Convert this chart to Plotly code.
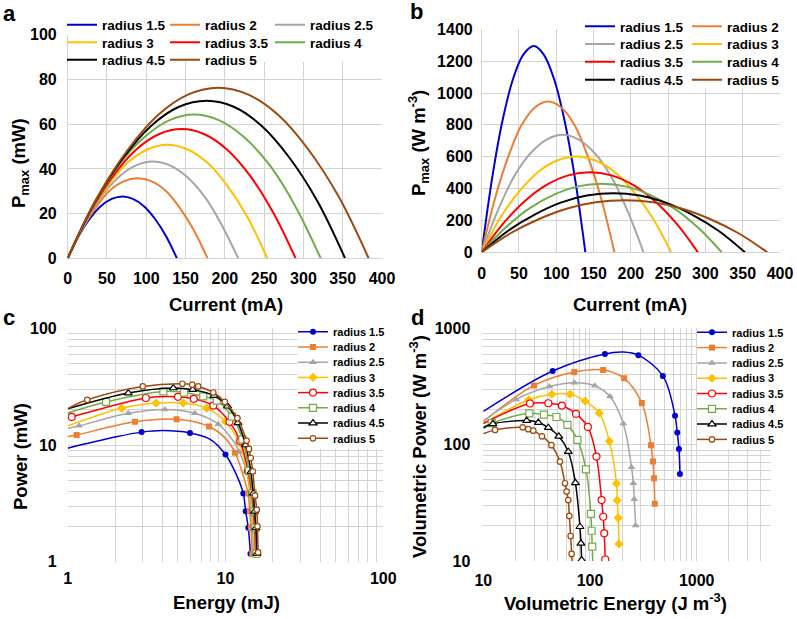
import math
import plotly.graph_objects as go

W, H = 797, 619
FONT = "Liberation Sans, Arial, sans-serif"
GRID = "#D3D3D3"

radii = ["1.5", "2", "2.5", "3", "3.5", "4", "4.5", "5"]
colors = ["#0000CD", "#ED7D31", "#A5A5A5", "#FFC000", "#FF0000", "#70AD47", "#000000", "#9E480E"]
symbols = ["circle", "square", "triangle-up", "diamond", "circle", "square", "triangle-up", "circle"]
filled = [True, True, True, True, False, False, False, False]

# ---------- panels a & b : current (mA) ----------
I_15 = [0, 14, 28, 42, 56, 70, 83, 97, 111, 125, 139]
I_2 = [0, 18, 36, 53, 71, 89, 107, 125, 142, 160, 178]
I_25 = [0, 22, 43, 65, 87, 108, 130, 152, 174, 195, 217]
I_3 = [0, 25, 51, 76, 102, 127, 152, 178, 203, 229, 254]
I_35 = [0, 29, 58, 87, 116, 145, 174, 203, 232, 261, 290]
I_4 = [0, 32, 64, 97, 129, 161, 193, 225, 258, 290, 322]
I_45 = [0, 35, 71, 106, 141, 177, 212, 247, 282, 318, 353]
I_5 = [0, 38, 77, 115, 153, 192, 230, 268, 306, 345, 383]

# panel a : Pmax (mW)
Pa_15 = [0, 10.0, 17.7, 23.3, 26.6, 27.7, 26.6, 23.3, 17.7, 10.0, 0]
Pa_2 = [0, 12.9, 22.9, 30.1, 34.4, 35.8, 34.4, 30.1, 22.9, 12.9, 0]
Pa_25 = [0, 15.6, 27.7, 36.4, 41.6, 43.3, 41.6, 36.4, 27.7, 15.6, 0]
Pa_3 = [0, 18.3, 32.5, 42.7, 48.8, 50.8, 48.8, 42.7, 32.5, 18.3, 0]
Pa_35 = [0, 20.8, 37.0, 48.6, 55.5, 57.8, 55.5, 48.6, 37.0, 20.8, 0]
Pa_4 = [0, 23.1, 41.2, 54.0, 61.7, 64.3, 61.7, 54.0, 41.2, 23.1, 0]
Pa_45 = [0, 25.4, 45.1, 59.2, 67.7, 70.5, 67.7, 59.2, 45.1, 25.4, 0]
Pa_5 = [0, 27.5, 48.8, 64.1, 73.2, 76.3, 73.2, 64.1, 48.8, 27.5, 0]

# panel b : Pmax (W m-3)
Pb_15 = [0, 466, 829, 1088, 1243, 1295, 1243, 1088, 829, 466, 0]
Pb_2 = [0, 341, 605, 795, 908, 946, 908, 795, 605, 341, 0]
Pb_25 = [0, 266, 472, 620, 708, 738, 708, 620, 472, 266, 0]
Pb_3 = [0, 217, 385, 506, 578, 602, 578, 506, 385, 217, 0]
Pb_35 = [0, 181, 322, 423, 483, 503, 483, 423, 322, 181, 0]
Pb_4 = [0, 155, 276, 362, 414, 431, 414, 362, 276, 155, 0]
Pb_45 = [0, 134, 237, 312, 356, 371, 356, 312, 237, 134, 0]
Pb_5 = [0, 118, 209, 275, 314, 327, 314, 275, 209, 118, 0]

# ---------- panel c : Energy (mJ) vs Power (mW); M = marker shown ----------
c_E_15 = [1.0, 2.0, 2.94, 4.0, 5.96, 8.0, 10.0, 11.7, 12.97, 13.43, 13.95, 14.4]
c_P_15 = [9.4, 11.7, 12.9, 13.3, 12.7, 11.2, 8.3, 5.6, 3.85, 2.7, 1.95, 1.17]
c_M_15 = [0, 0, 1, 0, 1, 0, 1, 0, 1, 1, 1, 1]
c_E_2 = [1.0, 1.14, 2.67, 4.9, 7.87, 10.0, 11.5, 12.9, 13.9, 14.25, 14.5, 14.8]
c_P_2 = [11.8, 12.2, 15.8, 16.6, 14.4, 11.4, 8.6, 5.6, 3.85, 2.7, 1.95, 1.17]
c_M_2 = [0, 1, 1, 1, 1, 0, 1, 0, 1, 1, 1, 1]
c_E_25 = [1.0, 1.18, 2.42, 4.13, 6.4, 9.0, 11.0, 12.3, 13.6, 14.3, 14.6, 14.85, 15.1]
c_P_25 = [13.9, 14.6, 18.7, 20.2, 18.7, 15.1, 11.2, 8.7, 5.9, 3.85, 2.7, 1.95, 1.17]
c_M_25 = [0, 1, 1, 1, 1, 1, 0, 1, 1, 1, 1, 1, 1]
c_E_3 = [1.0, 2.2, 3.63, 5.4, 7.6, 10.0, 12.2, 13.7, 14.5, 14.85, 15.1, 15.35]
c_P_3 = [14.6, 20.7, 22.9, 22.9, 20.7, 15.9, 10.5, 6.0, 3.85, 2.7, 1.95, 1.17]
c_M_3 = [0, 1, 1, 1, 1, 1, 1, 1, 1, 1, 1, 1]
c_E_35 = [1.0, 1.06, 3.13, 5.0, 6.3, 8.37, 10.6, 12.4, 13.9, 14.7, 15.0, 15.3, 15.55]
c_P_35 = [17.1, 17.4, 25.3, 25.9, 24.9, 21.8, 15.8, 10.8, 6.0, 3.85, 2.7, 1.95, 1.17]
c_M_35 = [0, 1, 1, 1, 1, 1, 1, 1, 1, 1, 1, 1, 1]
c_E_4 = [1.0, 1.75, 4.04, 5.46, 7.23, 8.8, 11.0, 12.8, 14.1, 14.85, 15.15, 15.45, 15.7]
c_P_4 = [18.8, 23.4, 28.8, 28.2, 26.1, 24.0, 17.5, 11.2, 6.0, 3.85, 2.7, 1.95, 1.17]
c_M_4 = [0, 1, 1, 1, 1, 1, 1, 1, 1, 1, 1, 1, 1]
c_E_45 = [1.0, 2.42, 4.67, 6.2, 8.45, 10.3, 12.0, 13.4, 14.5, 15.0, 15.3, 15.6, 15.85]
c_P_45 = [20.4, 27.9, 30.8, 29.8, 26.5, 21.5, 15.5, 10.0, 5.9, 3.85, 2.7, 1.95, 1.17]
c_M_45 = [0, 1, 1, 1, 1, 1, 1, 1, 1, 1, 1, 1, 1]
c_E_5 = [1.0, 1.33, 2.99, 5.33, 6.16, 6.72, 8.37, 9.9, 11.9, 13.6, 14.1, 14.45, 14.9, 15.4, 15.8, 15.95, 16.1]
c_P_5 = [20.5, 24.4, 31.8, 33.5, 32.9, 31.8, 28.2, 23.4, 17.0, 10.9, 9.25, 7.74, 5.94, 3.68, 2.79, 2.01, 1.2]
c_M_5 = [0, 1, 1, 1, 1, 1, 1, 1, 1, 1, 1, 1, 1, 1, 1, 1, 1]

# ---------- panel d : Volumetric Energy (J m-3) vs Volumetric Power (W m-3) ----------
d_E_15 = [10, 44.7, 138, 205, 284, 482, 627, 658, 682, 697]
d_P_15 = [193, 430, 603, 625, 588, 390, 177, 127, 92, 56]
d_M_15 = [0, 1, 1, 0, 1, 1, 1, 1, 1, 1]
d_E_2 = [10, 29.9, 71.3, 133, 209, 306, 373, 389, 398, 405]
d_P_2 = [158, 323, 422, 439, 372, 228, 99, 71.5, 51.4, 31.1]
d_M_2 = [0, 1, 1, 1, 1, 1, 1, 1, 1, 1]
d_E_25 = [10, 20.3, 41.6, 71.3, 111, 154, 205, 245, 255, 260, 268]
d_P_25 = [160, 245, 316, 341, 321, 259, 152, 64, 46.6, 33.9, 20.2]
d_M_25 = [0, 1, 1, 1, 1, 1, 1, 1, 1, 1, 1]
d_E_3 = [10, 26.7, 43.8, 65, 90, 122, 152, 177, 180, 184, 187]
d_P_3 = [152, 243, 271, 271, 237, 187, 107, 46.4, 33.2, 23.5, 14.0]
d_M_3 = [0, 1, 1, 1, 1, 1, 1, 1, 1, 1, 1]
d_E_35 = [10, 27.4, 40.7, 54.5, 74, 95.5, 115, 128.5, 133, 136, 139]
d_P_35 = [152, 226, 227, 217, 184, 142, 79, 33.4, 24, 17.3, 10.3]
d_M_35 = [0, 1, 1, 1, 1, 1, 1, 1, 1, 1, 1]
d_E_4 = [10, 12.0, 27, 37, 48.5, 61.5, 76.3, 91.6, 102, 103.5, 105, 106.5]
d_P_4 = [142, 153, 186, 181, 173, 148, 110, 61.4, 25.4, 18.2, 13.3, 9.0]
d_M_4 = [0, 1, 1, 1, 1, 1, 1, 1, 1, 1, 1, 0]
d_E_45 = [10, 12.3, 25.5, 32.8, 40.7, 51, 62.6, 73, 80.5, 82.3, 83.5]
d_P_45 = [139, 151, 161, 155, 140, 118, 87, 47, 19.7, 14.2, 10.2]
d_M_45 = [0, 1, 1, 1, 1, 1, 1, 1, 1, 1, 1]
d_E_5 = [10, 12.9, 23.4, 26.4, 29.4, 35.5, 43.5, 52.3, 58.3, 60.4, 62.6, 64, 65.9, 67.3, 68.2]
d_P_5 = [124, 134, 141, 136, 132, 118, 99, 71.5, 46.6, 39.5, 33.4, 24.4, 16.4, 11.5, 9.0]
d_M_5 = [0, 1, 1, 1, 1, 1, 1, 1, 1, 1, 1, 1, 1, 1, 0]

# tick labels
a_xticks = [0, 50, 100, 150, 200, 250, 300, 350, 400]
a_yticks = [0, 20, 40, 60, 80, 100]
b_yticks = [0, 200, 400, 600, 800, 1000, 1200, 1400]
c_xticks = [1, 10, 100]
c_yticks = [1, 10, 100]
d_xticks = [10, 100, 1000]
d_yticks = [10, 100, 1000]

I_all = [I_15, I_2, I_25, I_3, I_35, I_4, I_45, I_5]
Pa_all = [Pa_15, Pa_2, Pa_25, Pa_3, Pa_35, Pa_4, Pa_45, Pa_5]
Pb_all = [Pb_15, Pb_2, Pb_25, Pb_3, Pb_35, Pb_4, Pb_45, Pb_5]
cE = [c_E_15, c_E_2, c_E_25, c_E_3, c_E_35, c_E_4, c_E_45, c_E_5]
cP = [c_P_15, c_P_2, c_P_25, c_P_3, c_P_35, c_P_4, c_P_45, c_P_5]
cM = [c_M_15, c_M_2, c_M_25, c_M_3, c_M_35, c_M_4, c_M_45, c_M_5]
dE = [d_E_15, d_E_2, d_E_25, d_E_3, d_E_35, d_E_4, d_E_45, d_E_5]
dP = [d_P_15, d_P_2, d_P_25, d_P_3, d_P_35, d_P_4, d_P_45, d_P_5]
dM = [d_M_15, d_M_2, d_M_25, d_M_3, d_M_35, d_M_4, d_M_45, d_M_5]


def fx(X):
    return X / W


def fy(Y):
    return 1 - Y / H


fig = go.Figure()
legends = {}
leg_count = [0]


def new_legend(x_text, yc, size):
    leg_count[0] += 1
    name = "legend" if leg_count[0] == 1 else "legend%d" % leg_count[0]
    legends[name] = dict(
        x=fx(x_text - 40), y=fy(yc), xanchor="left", yanchor="middle",
        bgcolor="rgba(0,0,0,0)", borderwidth=0, itemwidth=30,
        font=dict(family=FONT, size=size, color="black", weight="bold"),
        itemclick=False, itemdoubleclick=False,
    )
    return name


a_pos = [(102, 25), (205, 25), (310, 25), (102, 42.5), (205, 42.5), (310, 42.5), (102, 60), (205, 60)]
b_pos = [(620, 26.5), (727, 26.5), (620, 44.3), (727, 44.3), (620, 62), (727, 62), (620, 80), (727, 80)]
c_pos = [(333, 331.7 + 15.23 * k) for k in range(8)]
d_pos = [(732, 332.3 + 15.3 * k) for k in range(8)]

for k in range(8):
    lg = new_legend(*a_pos[k], 13.5)
    fig.add_trace(go.Scatter(x=I_all[k], y=Pa_all[k], mode="lines", name="radius " + radii[k],
                             line=dict(color=colors[k], width=2, shape="spline"),
                             xaxis="x", yaxis="y", legend=lg))
for k in range(8):
    lg = new_legend(*b_pos[k], 13.5)
    fig.add_trace(go.Scatter(x=I_all[k], y=Pb_all[k], mode="lines", name="radius " + radii[k],
                             line=dict(color=colors[k], width=2, shape="spline"),
                             xaxis="x2", yaxis="y2", legend=lg))


def marker_style(k):
    col = colors[k]
    sz = 6 if k in (0, 1) else (5.5 if k == 7 else 7)
    if filled[k]:
        return dict(symbol=symbols[k], size=sz, color=col, line=dict(color=col, width=0))
    return dict(symbol=symbols[k], size=sz, color="white", line=dict(color=col, width=1.2))


for E, P, M, pos, xa, ya in ((cE, cP, cM, c_pos, "x3", "y3"), (dE, dP, dM, d_pos, "x4", "y4")):
    for k in range(8):
        col = colors[k]
        fig.add_trace(go.Scatter(x=E[k], y=P[k], mode="lines", showlegend=False,
                                 line=dict(color=col, width=1.5, shape="spline"),
                                 xaxis=xa, yaxis=ya, hoverinfo="skip"))
        mx = [e for e, m in zip(E[k], M[k]) if m]
        my = [p for p, m in zip(P[k], M[k]) if m]
        fig.add_trace(go.Scatter(x=mx, y=my, mode="markers", showlegend=False,
                                 marker=marker_style(k), xaxis=xa, yaxis=ya))
        lg = new_legend(*pos[k], 11)
        fig.add_trace(go.Scatter(x=[None], y=[None], mode="lines+markers", name="radius " + radii[k],
                                 line=dict(color=col, width=1.5), marker=marker_style(k),
                                 xaxis=xa, yaxis=ya, legend=lg))

tickfont = dict(family=FONT, size=16, color="black", weight="bold")


def lin_axis(dom, rng, ticks, anchor, standoff):
    return dict(domain=dom, range=rng, tickmode="array", tickvals=ticks, ticktext=[str(t) for t in ticks],
                anchor=anchor, showgrid=True,
                gridcolor=GRID, gridwidth=1, zeroline=True, zerolinecolor=GRID, zerolinewidth=1,
                showline=False, ticks="", tickfont=tickfont, ticklabelstandoff=standoff, fixedrange=True)


def log_axis(dom, ticks, hi, anchor, standoff):
    minor = []
    for dec in ticks:
        for m in range(2, 10):
            v = m * dec
            if v <= hi * 1.0001:
                minor.append(v)
    return dict(domain=dom, type="log", range=[math.log10(ticks[0]), math.log10(hi) + 0.0004],
                tickmode="array", tickvals=ticks, ticktext=[str(t) for t in ticks],
                minor=dict(tickmode="array", tickvals=minor, showgrid=True, gridcolor=GRID, gridwidth=1, ticks=""),
                anchor=anchor, showgrid=True, gridcolor=GRID, gridwidth=1, zeroline=False,
                showline=False, ticks="", tickfont=tickfont, ticklabelstandoff=standoff, fixedrange=True)


# pixel boxes of plot areas (left, right, top, bottom)
A = (67.7, 382.0, 34.8, 258.3)
B = (481.7, 780.0, 29.3, 252.3)
C = (67.7, 383.3, 328.3, 561.7)
D = (483.3, 771.3, 328.3, 561.0)


def dom(box):
    x0, x1, y0, y1 = box
    return [fx(x0), fx(x1)], [fy(y1), fy(y0)]


ax_, ay_ = dom(A)
bx_, by_ = dom(B)
cx_, cy_ = dom(C)
dx_, dy_ = dom(D)

fig.update_layout(
    width=W, height=H, margin=dict(l=0, r=0, t=0, b=0, autoexpand=False),
    paper_bgcolor="white", plot_bgcolor="white",
    font=dict(family=FONT, color="black"),
    xaxis=lin_axis(ax_, [0, 400], a_xticks, "y", 9),
    yaxis=lin_axis(ay_, [0, 100], a_yticks, "x", 10),
    xaxis2=lin_axis(bx_, [0, 400], a_xticks, "y2", 10),
    yaxis2=lin_axis(by_, [0, 1400], b_yticks, "x2", 8),
    xaxis3=log_axis(cx_, c_xticks, 100, "y3", 5),
    yaxis3=log_axis(cy_, c_yticks, 100, "x3", 10),
    xaxis4=log_axis(dx_, d_xticks, 5000, "y4", 8),
    yaxis4=log_axis(dy_, d_yticks, 1000, "x4", 12),
    hovermode=False,
    **legends,
)

# white legend backgrounds (cover gridlines, beneath the data)
fig.add_shape(type="rect", xref="x", yref="y", x0=5, x1=395, y0=88, y1=101, layer="between",
              fillcolor="white", line=dict(width=0))
fig.add_shape(type="rect", xref="x2", yref="y2", x0=154, x1=410, y0=1025, y1=1450, layer="between",
              fillcolor="white", line=dict(width=0))
fig.add_shape(type="rect", xref="x3", yref="y3", x0=28.7, x1=110, y0=9.3, y1=110, layer="between",
              fillcolor="white", line=dict(width=0))
fig.add_shape(type="rect", xref="x4", yref="y4", x0=1010, x1=5500, y0=92, y1=1100, layer="between",
              fillcolor="white", line=dict(width=0))

ann = []


def text(X, Y, s, size, angle=0):
    ann.append(dict(x=fx(X), y=fy(Y), xref="paper", yref="paper", text=s, showarrow=False,
                    textangle=angle, xanchor="center", yanchor="middle",
                    font=dict(family=FONT, size=size, color="black", weight="bold")))


text(9, 13, "a", 22)
text(416, 12, "b", 22)
text(9, 317, "c", 22)
text(417, 317, "d", 22)
text(226, 305, "Current (mA)", 18.5)
text(630, 305, "Current (mA)", 18.5)
text(226, 602, "Energy (mJ)", 18.5)
text(615, 602, "Volumetric Energy (J m<sup>-3</sup>)", 18.5)
text(20, 163, "P<sub>max</sub> (mW)", 18.5, -90)
text(418, 143, "P<sub>max</sub> (W m<sup>-3</sup>)", 18.5, -90)
text(20, 457, "Power (mW)", 18.5, -90)
text(418, 447, "Volumetric Power (W m<sup>-3</sup>)", 18.5, -90)
fig.update_layout(annotations=ann)

fig.write_html("out.html", config={"displayModeBar": False, "staticPlot": True},
               post_script="document.body.style.margin='0px';document.body.style.padding='0px';document.body.style.overflow='hidden';")
